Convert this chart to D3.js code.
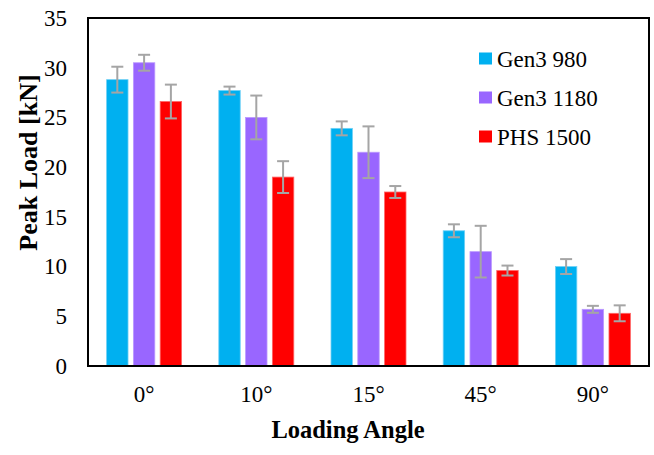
<!DOCTYPE html>
<html><head><meta charset="utf-8">
<script src="https://cdn.jsdelivr.net/npm/d3@7"></script>
<style>body{margin:0;background:#fff}svg{display:block}</style>
</head><body>
<svg id="chart" width="654" height="455"></svg>
<script>
const categories = ["0°", "10°", "15°", "45°", "90°"];
const seriesNames = ["Gen3 980", "Gen3 1180", "PHS 1500"];
const gen3_980 = [28.8, 27.7, 23.9, 13.6, 10.0];
const gen3_1180 = [30.5, 25.0, 21.5, 11.5, 5.7];
const phs_1500 = [26.6, 19.0, 17.5, 9.6, 5.3];
const gen3_980_err = [1.3, 0.4, 0.7, 0.65, 0.75];
const gen3_1180_err = [0.8, 2.2, 2.6, 2.6, 0.35];
const phs_1500_err = [1.7, 1.6, 0.6, 0.5, 0.8];
const yTicks = [0, 5, 10, 15, 20, 25, 30, 35];
const colors = ["#00B0F0", "#9966FF", "#FF0000"];
const strokeColors = ["#6fd0f5", "#bb99ff", "#ff6666"];

const values = [gen3_980, gen3_1180, phs_1500];
const errs = [gen3_980_err, gen3_1180_err, phs_1500_err];

const svg = d3.select("#chart");
const m = {left: 88, top: 18, right: 649, bottom: 366};
const font = "'Liberation Serif', 'Times New Roman', Times, serif";

const x = d3.scaleBand().domain(categories).range([m.left, m.right]).paddingInner(0).paddingOuter(0);
const x1 = d3.scaleBand().domain(seriesNames).range([-37.5, 37.5]).paddingInner(0.2).paddingOuter(0);
const y = d3.scaleLinear().domain([0, 35]).range([m.bottom, m.top]);

// bars
seriesNames.forEach((s, si) => {
  svg.append("g").selectAll("rect").data(categories).join("rect")
    .attr("x", c => x(c) + x.bandwidth()/2 + x1(s))
    .attr("y", (c, i) => y(values[si][i]))
    .attr("width", x1.bandwidth())
    .attr("height", (c, i) => y(0) - y(values[si][i]))
    .attr("fill", colors[si])
    .attr("stroke", strokeColors[si])
    .attr("stroke-width", 0.8);
});

// error bars
seriesNames.forEach((s, si) => {
  const g = svg.append("g").attr("stroke", "#A5A5A5").attr("stroke-width", 2).attr("fill", "none");
  categories.forEach((c, i) => {
    const cx = x(c) + x.bandwidth()/2 + x1(s) + x1.bandwidth()/2;
    const hi = y(values[si][i] + errs[si][i]);
    const lo = y(values[si][i] - errs[si][i]);
    g.append("line").attr("x1", cx).attr("x2", cx).attr("y1", hi).attr("y2", lo);
    g.append("line").attr("x1", cx - 6).attr("x2", cx + 6).attr("y1", hi).attr("y2", hi);
    g.append("line").attr("x1", cx - 6).attr("x2", cx + 6).attr("y1", lo).attr("y2", lo);
  });
});

// frame
svg.append("rect").attr("x", m.left).attr("y", m.top)
  .attr("width", m.right - m.left).attr("height", m.bottom - m.top)
  .attr("fill", "none").attr("stroke", "#000").attr("stroke-width", 2);

// y axis
const yAxis = d3.axisLeft(y).tickValues(yTicks).tickSize(0).tickPadding(21);
const yg = svg.append("g").attr("transform", `translate(${m.left},0)`).call(yAxis);
yg.select(".domain").remove();
yg.selectAll("text").attr("font-family", font).attr("font-size", 23).attr("fill", "#000");

// x axis
const xAxis = d3.axisBottom(x).tickSize(0).tickPadding(20);
const xg = svg.append("g").attr("transform", `translate(0,${m.bottom})`).call(xAxis);
xg.select(".domain").remove();
xg.selectAll("text").attr("font-family", font).attr("font-size", 23).attr("fill", "#000");

// titles
svg.append("text").attr("x", 348).attr("y", 438)
  .attr("text-anchor", "middle").attr("font-family", font).attr("font-weight", "bold")
  .attr("font-size", 24.5).attr("fill", "#000").text("Loading Angle");
svg.append("text").attr("transform", `translate(37,162.5) rotate(-90)`)
  .attr("text-anchor", "middle").attr("font-family", font).attr("font-weight", "bold")
  .attr("font-size", 26).attr("fill", "#000").text("Peak Load [kN]");

// legend
const leg = svg.append("g");
seriesNames.forEach((s, si) => {
  const cy = 58.5 + si * 39;
  leg.append("rect").attr("x", 479).attr("y", cy - 6).attr("width", 13).attr("height", 12).attr("fill", colors[si]);
  leg.append("text").attr("x", 497).attr("y", cy + 8.5).attr("font-family", font)
    .attr("font-size", 23).attr("fill", "#000").text(s);
});
</script>
</body></html>
